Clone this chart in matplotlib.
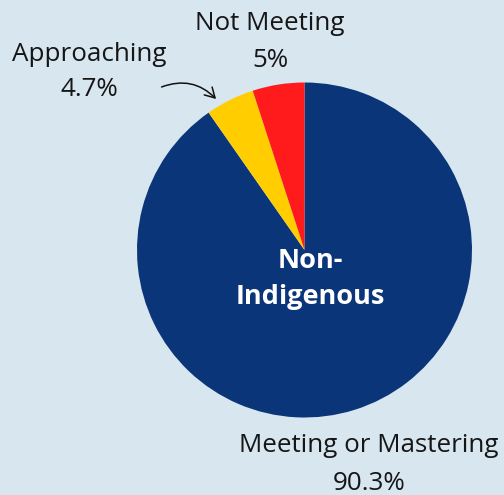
import matplotlib
matplotlib.use("Agg")
import matplotlib.pyplot as plt

categories = ["Meeting or Mastering", "Approaching", "Not Meeting"]
values = [90.3, 4.7, 5.0]
colors = ["#0a3579", "#ffcd00", "#ff1b1b"]
center_lines = ["Non-", "Indigenous"]

plt.rcParams["font.family"] = ["Open Sans", "DejaVu Sans"]

W, H = 504, 495
bg = "#d8e6f0"
fig = plt.figure(figsize=(W / 100, H / 100), dpi=100, facecolor=bg)
ax = fig.add_axes([0, 0, 1, 1])
ax.set_facecolor(bg)

cx, cy, r = 304.5, H - 250, 167.5
ax.pie(values, colors=colors, startangle=90, counterclock=False,
       center=(cx, cy), radius=r, frame=True,
       wedgeprops=dict(linewidth=0))
ax.set_xlim(0, W)
ax.set_ylim(0, H)
ax.set_aspect("equal")
ax.axis("off")

txt = "#161616"
fs = 18.7
fsb = 19.5


def two_lines(x, y1, y2, a, b, **kw):
    ax.text(x, H - y1, a, ha="center", va="baseline", **kw)
    ax.text(x, H - y2, b, ha="center", va="baseline", **kw)


two_lines(310.5, 268, 304, center_lines[0], center_lines[1],
          color="white", fontsize=fsb, fontweight="bold")
two_lines(270, 30, 67, categories[2], f"{values[2]:g}%",
          color=txt, fontsize=fs)
two_lines(89, 61, 96, categories[1], f"{values[1]:g}%",
          color=txt, fontsize=fs)
two_lines(369, 452, 490, categories[0], f"{values[0]:g}%",
          color=txt, fontsize=fs)

# curved pointer from the "Approaching" label to its slice
ax.annotate("", xy=(218, H - 101), xytext=(159, H - 88),
            arrowprops=dict(arrowstyle="->,head_length=0.7,head_width=0.4",
                            color="#111111", lw=1.1,
                            connectionstyle="arc3,rad=-0.35"))

fig.savefig("out.png", dpi=100, facecolor=bg)
